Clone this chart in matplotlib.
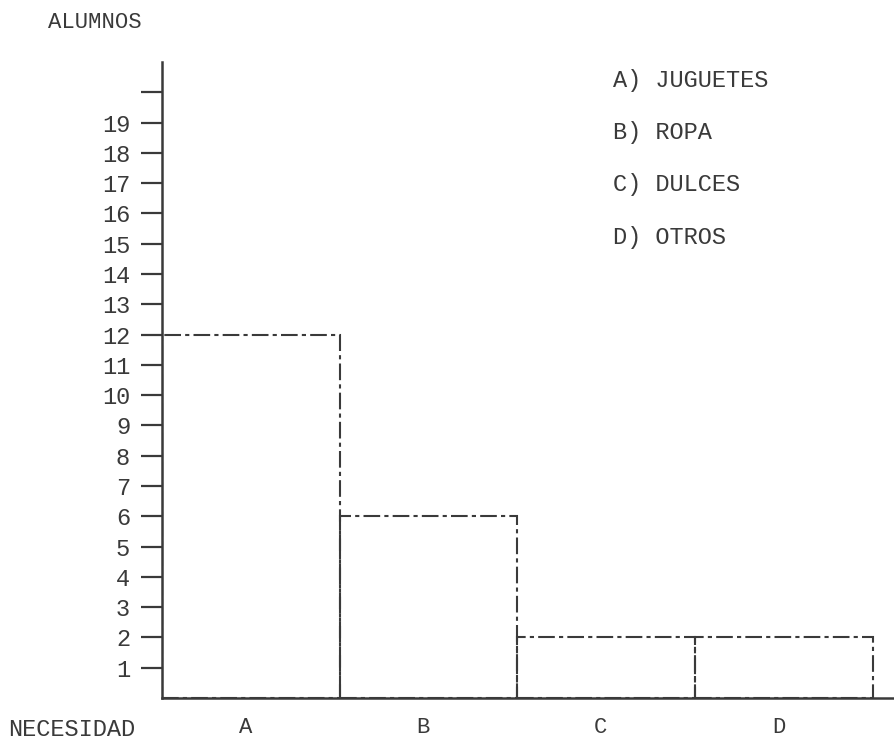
import matplotlib.pyplot as plt

plt.rcParams['font.family'] = ['Liberation Mono', 'DejaVu Sans Mono']

necesidad = ["A", "B", "C", "D"]
nombres = ["JUGUETES", "ROPA", "DULCES", "OTROS"]
alumnos = [12, 6, 2, 2]

y_ticks = list(range(1, 21))
y_labels = [str(v) for v in range(1, 20)] + [""]

ink = "#3a3a3a"
fs = 17

fig = plt.figure(figsize=(8.94, 7.40), dpi=100)
ax = fig.add_axes([0.1812, 0.0568, 0.8188, 0.8595])

x = list(range(len(necesidad)))
ax.bar(x, alumnos, width=1.0, align="edge", fill=False,
       edgecolor=ink, linewidth=1.5, linestyle=(0, (8, 2, 2, 2)))

ax.set_xlim(0, 4.12)
ax.set_ylim(0, 21)

ax.set_yticks(y_ticks)
ax.set_yticklabels(y_labels)
ax.set_xticks([i + 0.47 for i in x])
ax.set_xticklabels(necesidad)

ax.tick_params(axis="y", direction="out", length=15, width=1.6, color=ink,
               labelsize=fs, labelcolor=ink, pad=8)
ax.tick_params(axis="x", length=0, labelsize=fs - 1, labelcolor=ink, pad=14)

for s in ["top", "right"]:
    ax.spines[s].set_visible(False)
for s in ["left", "bottom"]:
    ax.spines[s].set_color(ink)
    ax.spines[s].set_linewidth(1.8)

fig.text(48 / 894, 1 - 22 / 740, "ALUMNOS", fontsize=fs - 1, color=ink, va="center")
fig.text(8 / 894, 1 - 729 / 740, "NECESIDAD", fontsize=fs, color=ink, va="center")

for i, (letra, nombre) in enumerate(zip(necesidad, nombres)):
    fig.text(613 / 894, 1 - (80 + i * 52.5) / 740, f"{letra}) {nombre}",
             fontsize=fs, color=ink, va="center")

fig.savefig("out.png", dpi=100)
